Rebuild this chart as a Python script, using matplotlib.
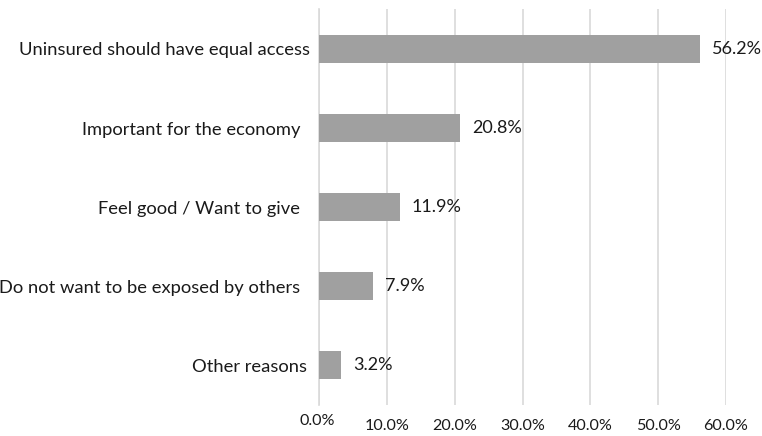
import matplotlib.pyplot as plt
import matplotlib.transforms as mtransforms

plt.rcParams['font.family'] = ['Lato', 'DejaVu Sans']

reasons = [
    "Uninsured should have equal access",
    "Important for the economy",
    "Feel good / Want to give",
    "Do not want to be exposed by others",
    "Other reasons",
]
shares = [56.2, 20.8, 11.9, 7.9, 3.2]
xticks = [0, 10, 20, 30, 40, 50, 60]
xtick_labels = ["0.0%", "10.0%", "20.0%", "30.0%", "40.0%", "50.0%", "60.0%"]

bar_color = "#a0a0a0"
grid_color = "#d9d9d9"
text_color = "#1a1a1a"

fig = plt.figure(figsize=(7.62, 4.36), dpi=100)
ax = fig.add_axes([319 / 762, 31.5 / 436, 407 / 762, 395 / 436])

pos = list(range(len(reasons)))
ax.barh(pos, shares, height=0.35, color=bar_color, zorder=3)
ax.set_ylim(len(reasons) - 0.5, -0.5)
ax.set_xlim(0, 60)

for y, v in zip(pos, shares):
    ax.annotate(f"{v:.1f}%", (v, y), xytext=(12, 0), textcoords="offset pixels",
                va="center", ha="left", fontsize=13, color=text_color)

ax.set_yticks(pos)
ax.set_yticklabels(reasons, fontsize=13.2, color=text_color)
ax.tick_params(axis="y", length=0, pad=13.5)
# nudge a couple of category labels towards the axis
for lbl, dx in zip(ax.get_yticklabels(), [10, 0, 0, 0, 7]):
    lbl.set_transform(lbl.get_transform() + mtransforms.ScaledTranslation(dx / 100, 0, fig.dpi_scale_trans))

ax.set_xticks(xticks)
ax.set_xticklabels(xtick_labels, fontsize=11.6, color=text_color)
ax.tick_params(axis="x", length=0, pad=10.5)
# the first tick label sits a little higher
lbl0 = ax.get_xticklabels()[0]
lbl0.set_transform(lbl0.get_transform() + mtransforms.ScaledTranslation(-2 / 100, 5 / 100, fig.dpi_scale_trans))

ax.grid(axis="x", color=grid_color, linewidth=1.2, zorder=0)
for side in ["top", "right", "bottom"]:
    ax.spines[side].set_visible(False)
ax.spines["left"].set_color(grid_color)
ax.spines["left"].set_linewidth(1.2)

fig.savefig("out.png", dpi=100)
